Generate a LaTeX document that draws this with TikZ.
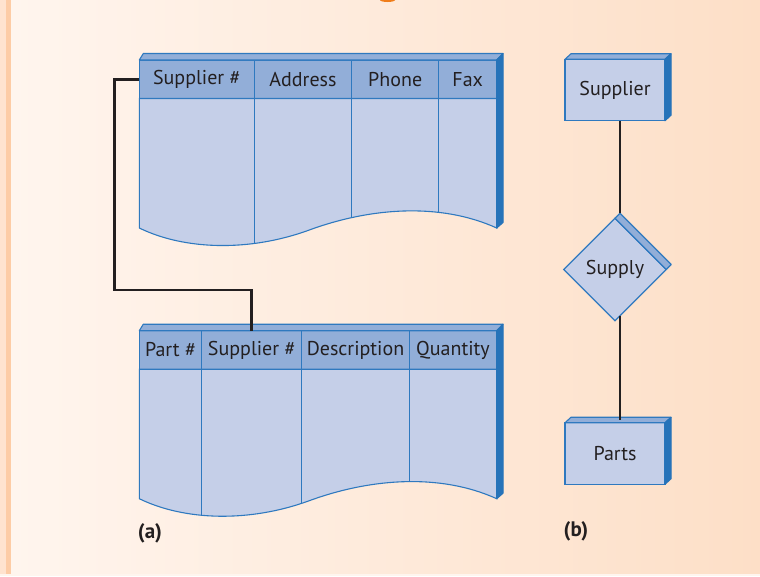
\documentclass[tikz,border=0pt]{standalone}
\usepackage{fontspec}
\setmainfont{PT Sans}
\usetikzlibrary{shapes.geometric, positioning}
\definecolor{hdrblue}{HTML}{92AED8}
\definecolor{bodyblue}{HTML}{C5CFE8}
\definecolor{sideblue}{HTML}{2673B9}
\definecolor{edgeblue}{HTML}{2F79BF}
\definecolor{inkdark}{HTML}{231F20}
\definecolor{bgleft}{HTML}{FFF5EE}
\definecolor{bgright}{HTML}{FDDFC7}
\definecolor{edgepeach}{HTML}{FFE3CF}
\definecolor{stripepeach}{HTML}{FDCCA6}
\definecolor{titleorange}{HTML}{F07D1A}

\begin{document}
\begin{tikzpicture}[
  x=1pt, y=-1pt,
  hcell/.style={rectangle, draw=edgeblue, fill=hdrblue, line width=1.1pt, minimum height=38.5pt, inner sep=0pt, outer sep=0pt, font=\fontsize{20}{22}\selectfont, text=inkdark},
  entity/.style={rectangle, draw=edgeblue, fill=bodyblue, line width=1.1pt, minimum width=100pt, minimum height=61.5pt, inner sep=0pt, outer sep=0pt, font=\fontsize{20}{22}\selectfont, text=inkdark},
  relation/.style={diamond, draw=edgeblue, fill=bodyblue, line width=1.1pt, minimum width=102.5pt, minimum height=102.5pt, inner sep=0pt, outer sep=0pt, font=\fontsize{20}{22}\selectfont, text=inkdark},
  topface/.style={fill=hdrblue, draw=edgeblue, line width=1.1pt, line join=round},
  sideface/.style={fill=sideblue, draw=sideblue, line width=1.1pt, line join=round},
  grid/.style={draw=edgeblue, line width=1.1pt},
  link/.style={draw=inkdark, line width=2.6pt},
  panel/.style={font=\bfseries\fontsize{21}{24}\selectfont, text=inkdark},
  tabbody/.style={insert path={(0,38.5) -- (0,168) .. controls (45,190) and (110,192) .. (170,170) .. controls (230,148) and (300,142) .. (357.4,168) -- (357.4,38.5) -- cycle}},
]
\useasboundingbox (0,0) rectangle (760,576);
% background
\fill[edgepeach] (0,0) rectangle (6,574);
\fill[stripepeach] (6,0) rectangle (11,574);
\fill[left color=bgleft, right color=bgright] (11,0) rectangle (760,574);
\fill[bgleft] (0,574) rectangle (760,576);
\begin{scope}
  \clip (0,0) rectangle (760,576);
  \fill[titleorange] (387.5,0) ellipse [x radius=7.5pt, y radius=2pt];
\end{scope}

% (a) supplier table
\begin{scope}[shift={(139.3,60)}]
  \node[hcell, minimum width=115pt, anchor=north west] (sup1) at (0,0) {Supplier \#};
  \node[hcell, minimum width=97.4pt, right=0pt of sup1] (adr1) {Address};
  \node[hcell, minimum width=87pt, right=0pt of adr1] (phn1) {Phone};
  \node[hcell, minimum width=58pt, right=0pt of phn1] (fax1) {Fax};
  \fill[bodyblue, tabbody];
  \begin{scope}
    \clip[tabbody];
    \draw[grid] (sup1.south east) -- ++(0,160);
    \draw[grid] (adr1.south east) -- ++(0,160);
    \draw[grid] (phn1.south east) -- ++(0,160);
  \end{scope}
  \draw[grid, tabbody];
  \filldraw[topface] (0,0) -- (4,-6.5) -- (363.7,-6.5) -- (357.4,0) -- cycle;
  \filldraw[sideface] (357.4,0) -- (363.7,-6.5) -- (363.7,162.5) -- (357.4,168) -- cycle;
\end{scope}

% (a) parts table
\begin{scope}[shift={(139.3,330.7)}]
  \node[hcell, minimum width=62.4pt, anchor=north west] (part2) at (0,0) {Part \#};
  \node[hcell, minimum width=100pt, right=0pt of part2] (sup2) {Supplier \#};
  \node[hcell, minimum width=107.6pt, right=0pt of sup2] (desc2) {Description};
  \node[hcell, minimum width=87.4pt, right=0pt of desc2] (qty2) {Quantity};
  \fill[bodyblue, tabbody];
  \begin{scope}
    \clip[tabbody];
    \draw[grid] (part2.south east) -- ++(0,160);
    \draw[grid] (sup2.south east) -- ++(0,160);
    \draw[grid] (desc2.south east) -- ++(0,160);
  \end{scope}
  \draw[grid, tabbody];
  \filldraw[topface] (0,0) -- (4,-6.5) -- (363.7,-6.5) -- (357.4,0) -- cycle;
  \filldraw[sideface] (357.4,0) -- (363.7,-6.5) -- (363.7,162.5) -- (357.4,168) -- cycle;
\end{scope}

\coordinate (bend) at (114.3,290);
\draw[link] (sup1.west) -| (bend) -| (sup2.north);

% (b) entity-relationship
\node[entity] (supent) at (615,90) {Supplier};
\node[relation, below=97.5pt of supent] (supply) {Supply};
\node[entity, below=102pt of supply] (parts) {Parts};
\foreach \n in {supent, parts} {
  \filldraw[topface] (\n.north west) -- ++(6,-5.5) -- ([shift={(6,-5.5)}]\n.north east) -- (\n.north east) -- cycle;
  \filldraw[sideface] (\n.north east) -- ++(6,-5.5) -- ([shift={(6,-5.5)}]\n.south east) -- (\n.south east) -- cycle;
}
\filldraw[topface] (supply.north) -- ++(5,-5) -- ([shift={(5,-5)}]supply.east) -- (supply.east) -- cycle;

\draw[link] ([xshift=5pt]supent.south) -- ([xshift=5pt,yshift=5pt]supply.north);
\draw[link] ([xshift=5pt,yshift=5pt]supply.south) -- ([xshift=5pt,yshift=3pt]parts.north);

\node[panel] (pa) at (150,533) {(a)};
\node[panel] (pb) at (576,531.5) {(b)};
\end{tikzpicture}
\end{document}
